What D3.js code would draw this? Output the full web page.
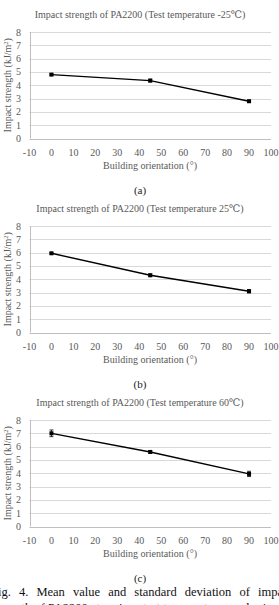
<!DOCTYPE html>
<html>
<head>
<meta charset="utf-8">
<script src="https://cdn.jsdelivr.net/npm/d3@7"></script>
<style>
  body { margin: 0; background: #fff; }
  svg { display: block; font-family: "Liberation Serif", "DejaVu Serif", serif; }
</style>
</head>
<body>
<div id="chart"></div>
<script>
// building orientation (deg) for every panel
var orientations = [0, 45, 90];
var xTicks = [-10, 0, 10, 20, 30, 40, 50, 60, 70, 80, 90, 100];
var yTicks = [0, 1, 2, 3, 4, 5, 6, 7, 8];

var titles = [
  "Impact strength of PA2200 (Test temperature -25\u2103)",
  "Impact strength of PA2200 (Test temperature 25\u2103)",
  "Impact strength of PA2200 (Test temperature 60\u2103)"
];
var panelLabels = ["(a)", "(b)", "(c)"];

var meanMinus25 = [4.8, 4.35, 2.8];
var meanPlus25 = [5.95, 4.3, 3.1];
var meanPlus60 = [7.0, 5.6, 3.95];
var sdMinus25 = [0.05, 0.1, 0.08];
var sdPlus25 = [0.05, 0.1, 0.12];
var sdPlus60 = [0.25, 0.08, 0.2];

var means = [meanMinus25, meanPlus25, meanPlus60];
var sds = [sdMinus25, sdPlus25, sdPlus60];

var captionLines = [
  "Fig. 4. Mean value and standard deviation of impact",
  "strength of PA2200 at various test temperatures and orientations"
];

var W = 279, H = 605;
// top of each panel's plot area (value 8)
var panelTop = [32, 226, 420];
var plotH = 106.5;

var svg = d3.select("#chart").append("svg").attr("width", W).attr("height", H);

var x = d3.scaleLinear().domain([-10, 100]).range([29.5, 271]);

panelTop.forEach(function(top, i) {
  var y = d3.scaleLinear().domain([0, 8]).range([top + plotH, top]);
  var g = svg.append("g");

  g.append("text")
    .attr("x", 140).attr("y", top - 14)
    .attr("text-anchor", "middle")
    .attr("font-size", 10).attr("fill", "#595959")
    .text(titles[i]);

  // gridlines
  g.selectAll(".grid").data(yTicks.slice(1)).enter().append("line")
    .attr("x1", x(-10)).attr("x2", x(100))
    .attr("y1", function(d) { return Math.round(y(d)) + 0.5; })
    .attr("y2", function(d) { return Math.round(y(d)) + 0.5; })
    .attr("stroke", "#d9d9d9").attr("stroke-width", 1);

  // axis lines
  g.append("line")
    .attr("x1", x(-10)).attr("x2", x(100))
    .attr("y1", Math.round(y(0)) + 0.5).attr("y2", Math.round(y(0)) + 0.5)
    .attr("stroke", "#bfbfbf");
  g.append("line")
    .attr("x1", Math.round(x(-10)) + 0.5).attr("x2", Math.round(x(-10)) + 0.5)
    .attr("y1", y(8)).attr("y2", y(0))
    .attr("stroke", "#bfbfbf");

  // tick labels
  g.selectAll(".yt").data(yTicks).enter().append("text")
    .attr("x", 21).attr("y", function(d) { return y(d) + 3.5; })
    .attr("text-anchor", "end")
    .attr("font-size", 10).attr("fill", "#595959")
    .text(function(d) { return d; });

  g.selectAll(".xt").data(xTicks).enter().append("text")
    .attr("x", function(d) { return x(d); }).attr("y", y(0) + 17)
    .attr("text-anchor", "middle")
    .attr("font-size", 10).attr("fill", "#595959")
    .text(function(d) { return d; });

  g.append("text")
    .attr("x", 150).attr("y", y(0) + 30)
    .attr("text-anchor", "middle")
    .attr("font-size", 10).attr("fill", "#595959")
    .text("Building orientation (\u00b0)");

  var yl = g.append("text")
    .attr("transform", "translate(11," + (top + plotH / 2) + ") rotate(-90)")
    .attr("text-anchor", "middle")
    .attr("font-size", 10).attr("fill", "#595959");
  yl.append("tspan").text("Impact strength (kJ/m");
  yl.append("tspan").attr("font-size", 6.5).attr("dy", -3.5).text("2");
  yl.append("tspan").attr("dy", 3.5).text(")");

  var pts = orientations.map(function(o, k) { return { o: o, m: means[i][k], s: sds[i][k] }; });

  // error bars
  pts.forEach(function(p) {
    g.append("line")
      .attr("x1", x(p.o)).attr("x2", x(p.o))
      .attr("y1", y(p.m - p.s)).attr("y2", y(p.m + p.s))
      .attr("stroke", "#000").attr("stroke-width", 0.8);
    [p.m - p.s, p.m + p.s].forEach(function(v) {
      g.append("line")
        .attr("x1", x(p.o) - 2).attr("x2", x(p.o) + 2)
        .attr("y1", y(v)).attr("y2", y(v))
        .attr("stroke", "#000").attr("stroke-width", 0.8);
    });
  });

  g.append("path")
    .datum(pts)
    .attr("d", d3.line().x(function(p) { return x(p.o); }).y(function(p) { return y(p.m); }))
    .attr("fill", "none").attr("stroke", "#000").attr("stroke-width", 1.4);

  g.selectAll(".mk").data(pts).enter().append("rect")
    .attr("x", function(p) { return x(p.o) - 2; })
    .attr("y", function(p) { return y(p.m) - 2; })
    .attr("width", 4).attr("height", 4)
    .attr("fill", "#000");

  g.append("text")
    .attr("x", 140).attr("y", y(0) + 55)
    .attr("text-anchor", "middle")
    .attr("font-size", 11).attr("fill", "#222")
    .text(panelLabels[i]);
});

// figure caption, justified and cut by the page edges
var capStart = [-9, -9], capEnd = [292, 300], capY = [596, 612];
captionLines.forEach(function(line, i) {
  var t = svg.append("text")
    .attr("x", capStart[i]).attr("y", capY[i])
    .attr("font-size", 12.5).attr("fill", "#111")
    .text(line);
  var natural = t.node().getComputedTextLength();
  var gaps = line.split(" ").length - 1;
  t.attr("word-spacing", Math.max(0, (capEnd[i] - capStart[i] - natural) / gaps));
});
</script>
</body>
</html>
